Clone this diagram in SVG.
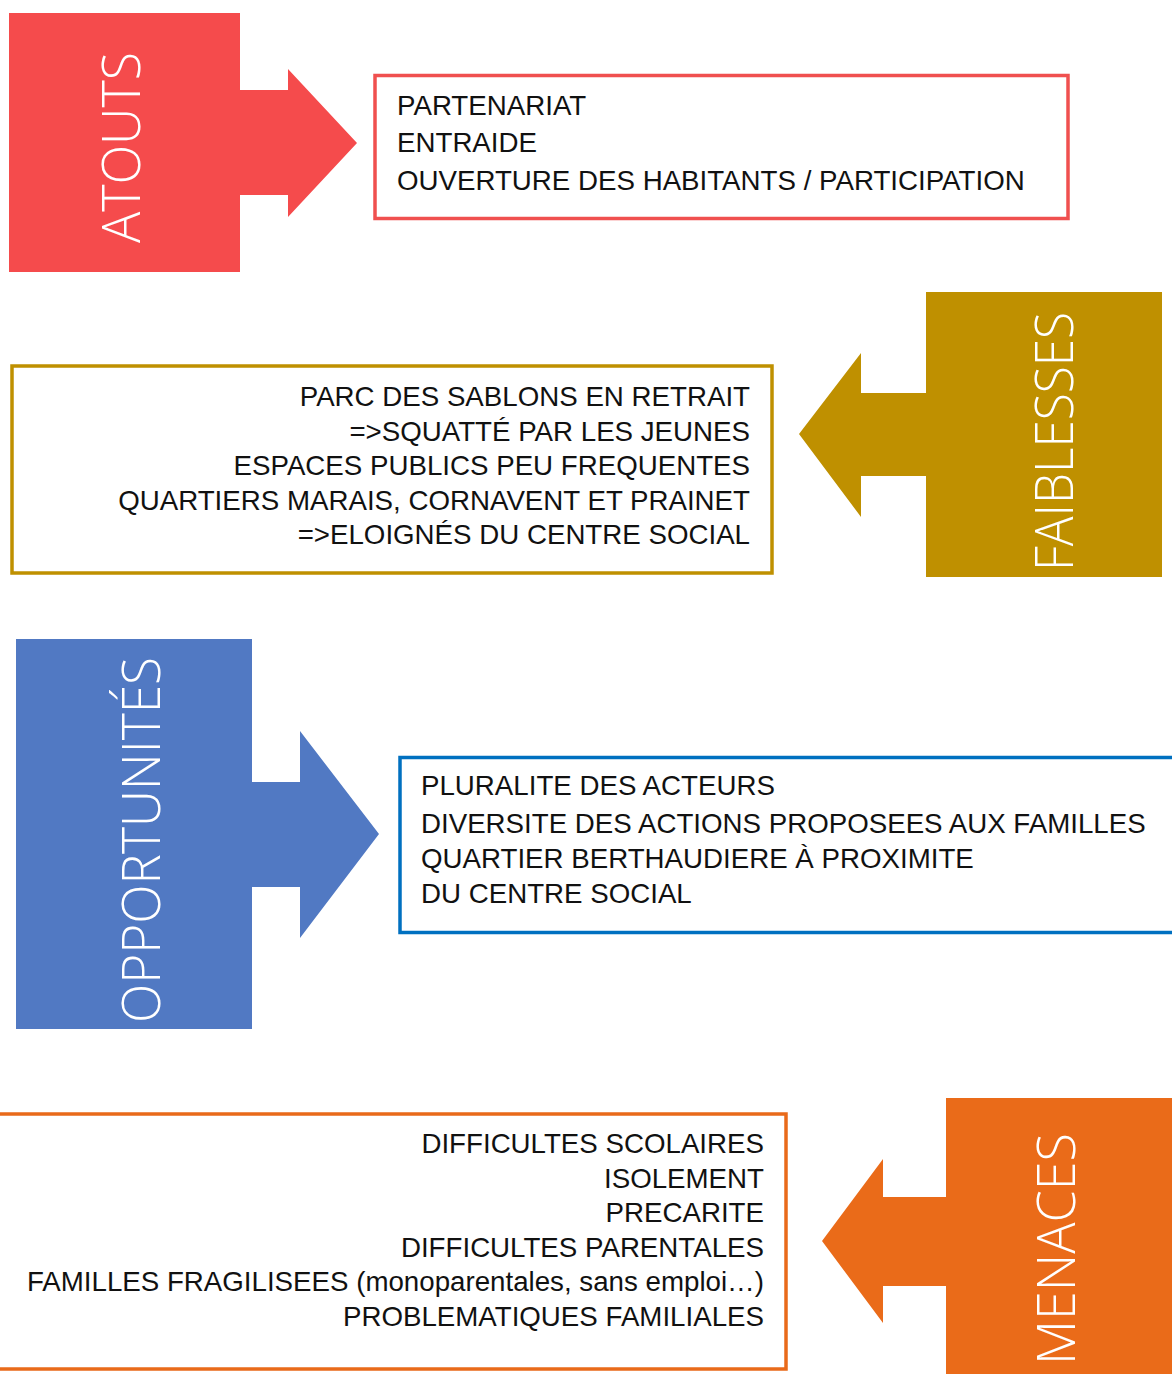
<svg xmlns="http://www.w3.org/2000/svg" width="1172" height="1374" viewBox="0 0 1172 1374">
<style>
.hdr{fill:#ffffff;font-family:"Open Sans","DejaVu Sans",sans-serif;font-weight:300;font-size:53px;text-anchor:middle}
.box{fill:#ffffff;stroke-width:3.5}
.t{fill:#111111;font-family:"Liberation Sans",Arial,sans-serif;font-size:27.7px}
.r{text-anchor:end}
</style>
<rect width="1172" height="1374" fill="#ffffff"/>
<g id="connectors"></g>
<g id="atouts">
<path d="M9 13 H240 V90 H288 V69 L357 143 L288 217 V195 H240 V272 H9 Z" fill="#F54B4C"/>
<text class="hdr" transform="translate(140,147.5) rotate(-90)" textLength="191" lengthAdjust="spacingAndGlyphs">ATOUTS</text>
</g>
<g id="atouts-box">
<rect class="box" x="375" y="75.5" width="693" height="143" stroke="#F0504F"/>
<text class="t" x="397" y="115">PARTENARIAT</text>
<text class="t" x="397" y="152">ENTRAIDE</text>
<text class="t" x="397" y="189.5">OUVERTURE DES HABITANTS / PARTICIPATION</text>
</g>
<g id="faiblesses">
<path d="M926 292 H1162 V577 H926 V476 H861 V517 L799 434 L861 353 V393 H926 Z" fill="#BF9000"/>
<text class="hdr" transform="translate(1073,441.5) rotate(-90)" textLength="259" lengthAdjust="spacingAndGlyphs">FAIBLESSES</text>
</g>
<g id="faiblesses-box">
<rect class="box" x="12" y="366" width="760" height="207" stroke="#BF9000"/>
<text class="t r" x="750" y="406">PARC DES SABLONS EN RETRAIT</text>
<text class="t r" x="750" y="440.5">=&gt;SQUATTÉ PAR LES JEUNES</text>
<text class="t r" x="750" y="475">ESPACES PUBLICS PEU FREQUENTES</text>
<text class="t r" x="750" y="509.5">QUARTIERS MARAIS, CORNAVENT ET PRAINET</text>
<text class="t r" x="750" y="544">=&gt;ELOIGNÉS DU CENTRE SOCIAL</text>
</g>
<g id="opportunites">
<path d="M16 639 H252 V782 H300 V731 L379 834 L300 938 V887 H252 V1029 H16 Z" fill="#5179C3"/>
<text class="hdr" transform="translate(160,840) rotate(-90)" textLength="366" lengthAdjust="spacingAndGlyphs">OPPORTUNITÉS</text>
</g>
<g id="opportunites-box">
<rect class="box" x="400" y="757.5" width="790" height="175" stroke="#0070C0"/>
<text class="t" x="421" y="795">PLURALITE DES ACTEURS</text>
<text class="t" x="421" y="833">DIVERSITE DES ACTIONS PROPOSEES AUX FAMILLES</text>
<text class="t" x="421" y="868">QUARTIER BERTHAUDIERE À PROXIMITE</text>
<text class="t" x="421" y="903">DU CENTRE SOCIAL</text>
</g>
<g id="menaces">
<path d="M946 1098 H1172 V1374 H946 V1286 H883 V1323 L822 1241 L883 1159 V1197 H946 Z" fill="#EA6B19"/>
<text class="hdr" transform="translate(1075,1249) rotate(-90)" textLength="232" lengthAdjust="spacingAndGlyphs">MENACES</text>
</g>
<g id="menaces-box">
<rect class="box" x="-10" y="1114" width="796" height="255" stroke="#E96A1A"/>
<text class="t r" x="764" y="1153">DIFFICULTES SCOLAIRES</text>
<text class="t r" x="764" y="1188">ISOLEMENT</text>
<text class="t r" x="764" y="1222">PRECARITE</text>
<text class="t r" x="764" y="1257">DIFFICULTES PARENTALES</text>
<text class="t r" x="764" y="1291">FAMILLES FRAGILISEES (monoparentales, sans emploi…)</text>
<text class="t r" x="764" y="1326">PROBLEMATIQUES FAMILIALES</text>
</g>
</svg>
